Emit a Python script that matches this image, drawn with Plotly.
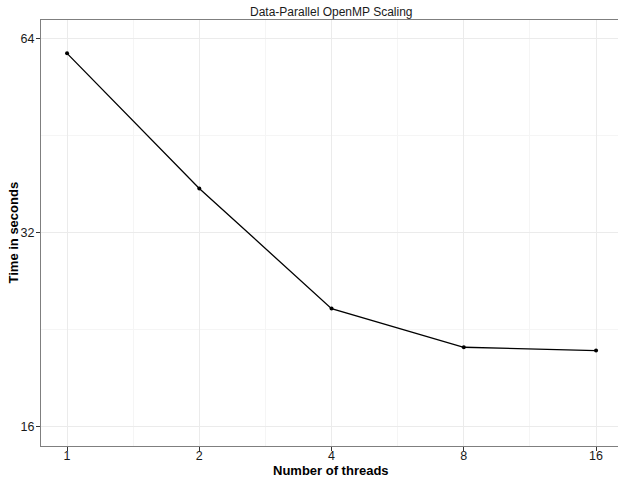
import plotly.graph_objects as go
import math

threads = [1, 2, 4, 8, 16]
seconds = [60.8, 37.5, 24.4, 21.25, 21.0]
x_ticks = [1, 2, 4, 8, 16]
y_ticks = [16, 32, 64]

x_minor = [2 ** (i + 0.5) for i in range(4)]
y_minor = [2 ** 4.5, 2 ** 5.5]

fig = go.Figure()
fig.add_trace(go.Scatter(
    x=threads, y=seconds, mode="lines+markers",
    line=dict(color="black", width=1.3),
    marker=dict(color="black", size=4),
    showlegend=False,
))

font = "Liberation Sans, Arial, sans-serif"
axis_common = dict(
    type="log", automargin=False,
    showline=True, linecolor="#7f7f7f", linewidth=1, mirror=True,
    ticks="outside", ticklen=4, tickcolor="#333333", tickwidth=1,
    showgrid=True, gridcolor="#ebebeb", gridwidth=1,
    zeroline=False,
    tickfont=dict(family=font, size=12.5, color="#1a1a1a"),
)

fig.update_xaxes(
    **axis_common,
    range=[math.log10(2 ** -0.197), math.log10(2 ** 4.166)],
    tickvals=x_ticks, ticktext=[str(v) for v in x_ticks],
    ticklabelstandoff=-6,
    minor=dict(tickvals=x_minor, showgrid=True, gridcolor="#f5f5f5", ticks=""),
)
fig.update_yaxes(
    **axis_common,
    range=[math.log10(2 ** 3.9), math.log10(2 ** 6.098)],
    tickvals=y_ticks, ticktext=[str(v) for v in y_ticks],
    ticklabelstandoff=-1,
    minor=dict(tickvals=y_minor, showgrid=True, gridcolor="#f5f5f5", ticks=""),
)

fig.update_layout(
    width=618, height=478,
    margin=dict(l=41, r=0, t=20, b=32),
    paper_bgcolor="white", plot_bgcolor="white",
    title=dict(text="Data-Parallel OpenMP Scaling", x=0.536, xanchor="center",
               y=1 - 12 / 478, yanchor="middle",
               font=dict(family=font, size=12, color="#1a1a1a")),
    annotations=[
        dict(text="<b>Number of threads</b>", xref="paper", yref="paper",
             x=(331 - 41) / 577, y=-(470.5 - 446) / 426, xanchor="center", yanchor="middle",
             showarrow=False, font=dict(family=font, size=13, color="black")),
        dict(text="<b>Time in seconds</b>", xref="paper", yref="paper",
             x=-(41 - 12.5) / 577, y=0.5, xanchor="center", yanchor="middle",
             textangle=-90, showarrow=False,
             font=dict(family=font, size=13, color="black")),
    ],
)

fig.write_html(
    "out.html",
    config={"displayModeBar": False},
    post_script="document.body.style.margin='0';document.body.style.overflow='hidden';",
)
